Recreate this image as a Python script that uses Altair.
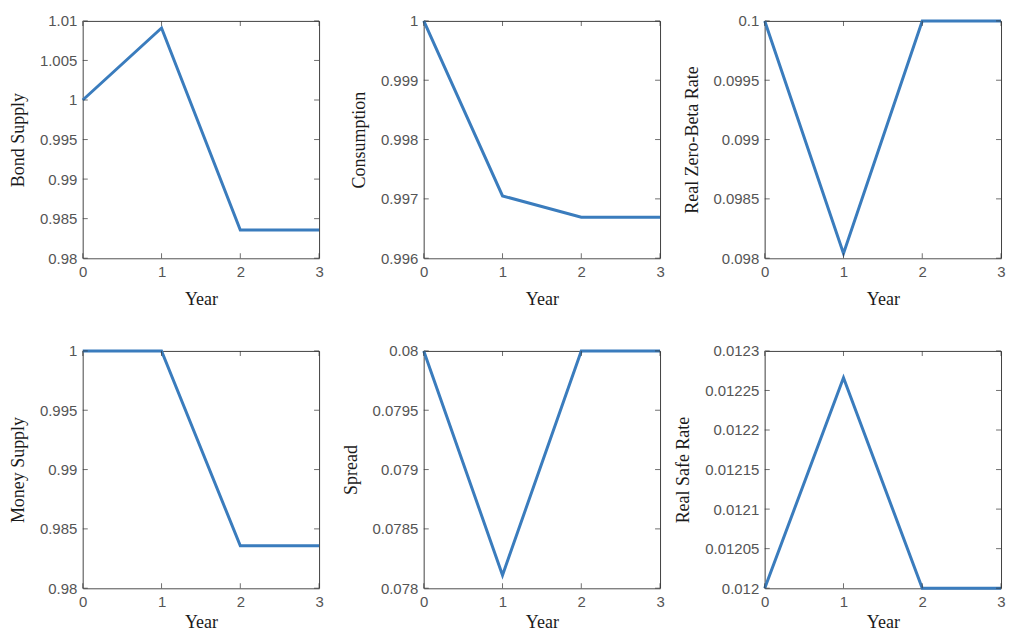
import altair as alt
import pandas as pd

years = [0, 1, 2, 3]

bond_supply = [1.0, 1.0091, 0.98355, 0.98355]
consumption = [1.0, 0.99705, 0.99669, 0.99669]
zero_beta = [0.1, 0.09804, 0.1, 0.1]
money_supply = [1.0, 1.0, 0.98357, 0.98357]
spread = [0.08, 0.07811, 0.08, 0.08]
safe_rate = [0.012, 0.012266, 0.012, 0.012]

bond_ticks = [0.98, 0.985, 0.99, 0.995, 1.0, 1.005, 1.01]
cons_ticks = [0.996, 0.997, 0.998, 0.999, 1.0]
zb_ticks = [0.098, 0.0985, 0.099, 0.0995, 0.1]
money_ticks = [0.98, 0.985, 0.99, 0.995, 1.0]
spread_ticks = [0.078, 0.0785, 0.079, 0.0795, 0.08]
safe_ticks = [0.012, 0.01205, 0.0121, 0.01215, 0.0122, 0.01225, 0.0123]

LINE = "#3a7cbd"
TICK = "#333333"
W, H = 237, 238


def panel(title, values, ticks, xtitle_pad):
    df = pd.DataFrame({"Year": years, "v": values})
    ys = alt.Scale(domain=[min(ticks), max(ticks)], nice=False, zero=False)
    xs = alt.Scale(domain=[0, 3], nice=False, zero=False)
    xax = alt.Axis(values=years, format="d", title="Year",
                   labelPadding=6, titlePadding=xtitle_pad, labelFlush=False)
    yax = alt.Axis(values=ticks, format="~g", title=title,
                   labelPadding=6, titlePadding=12, labelFlush=False,
                   labelOverlap=False)
    line = alt.Chart(df).mark_line(color=LINE, strokeWidth=3, clip=False).encode(
        x=alt.X("Year:Q", scale=xs, axis=xax),
        y=alt.Y("v:Q", scale=ys, axis=yax),
    )
    tdf = pd.DataFrame({"v": ticks})
    xdf = pd.DataFrame({"Year": years})
    tk = dict(size=5, thickness=1, color=TICK)
    lt = alt.Chart(tdf).mark_tick(**tk).encode(
        y=alt.Y("v:Q", scale=ys, axis=yax), x=alt.value(2.5))
    rt = alt.Chart(tdf).mark_tick(**tk).encode(
        y=alt.Y("v:Q", scale=ys, axis=yax), x=alt.value(W - 2.5))
    bt = alt.Chart(xdf).mark_tick(**tk).encode(
        x=alt.X("Year:Q", scale=xs, axis=xax), y=alt.value(H - 2.5))
    tt = alt.Chart(xdf).mark_tick(**tk).encode(
        x=alt.X("Year:Q", scale=xs, axis=xax), y=alt.value(2.5))
    return alt.layer(line, lt, rt, bt, tt).properties(width=W, height=H)


chart = alt.concat(
    panel("Bond Supply", bond_supply, bond_ticks, 11),
    panel("Consumption", consumption, cons_ticks, 11),
    panel("Real Zero-Beta Rate", zero_beta, zb_ticks, 11),
    panel("Money Supply", money_supply, money_ticks, 4),
    panel("Spread", spread, spread_ticks, 4),
    panel("Real Safe Rate", safe_rate, safe_ticks, 4),
    columns=3, spacing={"row": 93, "column": 105}, bounds="flush",
).properties(
    padding={"left": 0, "top": 4, "right": 0, "bottom": 0}
).configure_view(
    stroke="#404040", strokeWidth=1
).configure_axis(
    labelFont="Liberation Sans", labelFontSize=15, labelColor="#555555",
    titleFont="Liberation Serif", titleFontSize=18, titleFontWeight="normal",
    titleColor="#1a1a1a", ticks=False, grid=False,
    domainColor="#8a8a8a", domainWidth=1,
)

chart.save("out.html", embed_options={"renderer": "svg", "actions": False})
